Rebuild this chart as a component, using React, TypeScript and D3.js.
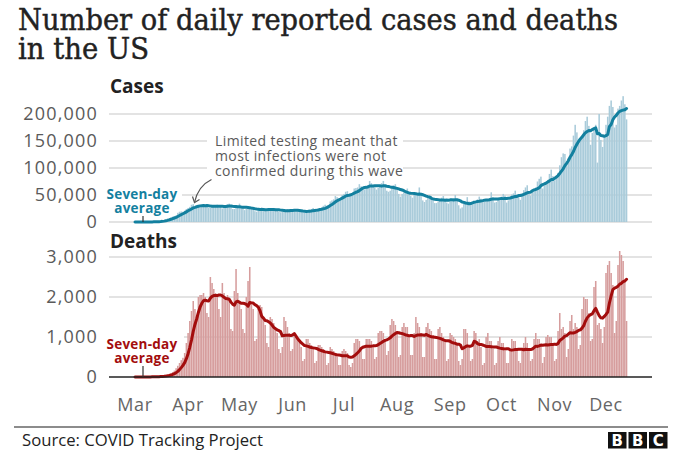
import React from "react";
import * as d3 from "d3";

// ---------- data (daily values from 1 Mar 2020, rows are Sun..Sat weeks) ----------
const startDate = new Date(Date.UTC(2020, 2, 1));
const monthLabels = ["Mar", "Apr", "May", "Jun", "Jul", "Aug", "Sep", "Oct", "Nov", "Dec"];
const caseTicks = [0, 50000, 100000, 150000, 200000];
const deathTicks = [0, 1000, 2000, 3000];

// daily reported cases, thousands
const casesThousands = [
  0.01, 0.02, 0.03, 0.05, 0.07, 0.1, 0.1,
  0.15, 0.2, 0.3, 0.4, 0.6, 0.8, 1.0,
  1.2, 1.8, 2.5, 3.6, 4.8, 6.5, 7.5,
  8.5, 10, 10.5, 12, 17, 19, 19.5,
  19, 21, 24, 26, 28, 32, 33,
  26, 29, 30, 31, 31, 33, 31,
  28, 26, 26, 30, 31, 31, 32,
  27, 28, 25, 28, 31, 33, 34,
  28, 24, 24, 26, 29, 34, 29,
  26, 22, 24, 24, 27, 28, 26,
  20, 19, 22, 21, 27, 26, 24,
  20, 22, 21, 22, 26, 25, 23,
  19, 18, 19, 20, 22, 24, 24,
  22, 19, 21, 20, 21, 22, 21,
  18, 17, 18, 21, 23, 24, 26,
  20, 19, 23, 26, 27, 30, 32,
  30, 31, 38, 40, 42, 48, 46,
  42, 42, 50, 52, 56, 57, 48,
  48, 52, 62, 63, 64, 70, 66,
  62, 60, 64, 68, 76, 72, 66,
  64, 60, 63, 68, 72, 76, 67,
  58, 56, 58, 64, 68, 70, 62,
  52, 47, 52, 55, 55, 62, 54,
  48, 45, 50, 52, 50, 64, 52,
  40, 37, 41, 44, 45, 48, 45,
  35, 35, 37, 40, 45, 48, 43,
  36, 34, 41, 40, 44, 50, 43,
  31, 25, 27, 34, 36, 46, 38,
  33, 32, 38, 38, 42, 47, 43,
  37, 37, 40, 40, 44, 55, 46,
  36, 37, 41, 44, 47, 52, 49,
  36, 40, 43, 51, 53, 58, 51,
  46, 41, 50, 59, 64, 68, 56,
  49, 59, 61, 64, 75, 80, 84,
  62, 68, 72, 78, 89, 97, 85,
  77, 85, 91, 105, 120, 127, 126,
  107, 118, 136, 140, 160, 180, 166,
  145, 150, 160, 170, 187, 195, 178,
  143, 165, 172, 180, 110, 200, 152,
  139, 158, 180, 195, 215, 225, 213,
  175, 180, 210, 215, 225, 233, 218,
  190,
];

// daily reported deaths
const deathsDaily = [
  0, 1, 1, 2, 1, 2, 2,
  3, 4, 5, 7, 8, 10, 12,
  15, 18, 25, 35, 45, 55, 70,
  90, 120, 160, 220, 280, 350, 420,
  480, 600, 850, 1100, 1400, 1650, 1900,
  1700, 1550, 2000, 2050, 2050, 2100, 2000,
  1600, 1500, 2500, 2350, 2200, 2100, 2000,
  1700, 1500, 2350, 2100, 2000, 2050, 1900,
  1200, 1150, 2150, 2700, 2100, 1900, 1700,
  1200, 1100, 2000, 2400, 2750, 1800, 1700,
  900, 950, 1700, 1800, 1750, 1500, 1300,
  850, 750, 1500, 1450, 1350, 1250, 1100,
  700, 600, 750, 1500, 1400, 1250, 1100,
  650, 700, 1000, 1050, 950, 900, 750,
  400, 450, 950, 950, 850, 800, 700,
  350, 400, 800, 800, 750, 700, 600,
  300, 350, 750, 700, 650, 600, 500,
  300, 300, 650, 700, 650, 600, 300,
  250, 350, 850, 950, 950, 900, 750,
  450, 450, 950, 950, 950, 900, 800,
  450, 500, 1100, 1150, 1150, 1100, 950,
  550, 650, 1300, 1450, 1400, 1300, 1150,
  500, 550, 1250, 1350, 1250, 1250, 1050,
  550, 550, 1100, 1500, 1350, 1250, 1100,
  500, 500, 1250, 1350, 1200, 1150, 1050,
  450, 450, 1200, 1250, 1100, 1000, 950,
  400, 450, 1100, 1050, 1000, 950, 800,
  400, 300, 450, 1200, 1200, 1100, 750,
  400, 450, 1150, 1100, 900, 950, 750,
  300, 350, 1000, 1100, 900, 900, 700,
  300, 350, 900, 1000, 850, 850, 650,
  350, 350, 700, 950, 900, 900, 650,
  400, 350, 700, 850, 1000, 850, 650,
  400, 450, 950, 1100, 950, 950, 800,
  350, 500, 1000, 1050, 1000, 1000, 800,
  400, 450, 1150, 1600, 1200, 1250, 1100,
  500, 700, 1400, 1550, 1200, 1350, 1250,
  700, 800, 1700, 2000, 1950, 1950, 1600,
  900, 950, 2250, 2400, 1300, 1350, 1200,
  850, 1250, 2600, 2800, 2900, 2600, 2300,
  1100, 1400, 2800, 3150, 3050, 2900, 2400,
  1400,
];

const annotationLines = ["Limited testing meant that", "most infections were not", "confirmed during this wave"];
const avgLabelLines = ["Seven-day", "average"];

// ---------- styling ----------
const SANS = "'Open Sans', 'DejaVu Sans', sans-serif";
const SERIF = "'DejaVu Serif', 'Liberation Serif', serif";
const CASE_BAR = "#a9cbda";
const CASE_LINE = "#13809f";
const DEATH_BAR = "#d69d9d";
const DEATH_LINE = "#a30d0d";
const GRID = "#c8c8c8";
const TICK_TEXT = "#5a5a5a";

const GRID_X0 = 109;
const GRID_X1 = 652;

function trailingMean(arr: number[]): number[] {
  return arr.map((_, i) => d3.mean(arr.slice(Math.max(0, i - 6), i + 1)) as number);
}

export default function App() {
  const cases = casesThousands.map((v) => v * 1000);
  const dates = cases.map((_, i) => d3.utcDay.offset(startDate, i));

  const x = d3
    .scaleUtc()
    .domain([startDate, new Date(Date.UTC(2020, 11, 1))])
    .range([135, 606]);
  const step = x(dates[1]) - x(dates[0]);
  const bw = step * 0.9;

  const yC = d3.scaleLinear().domain([0, 200000]).range([222, 114]);
  const yD = d3.scaleLinear().domain([0, 3000]).range([377, 257]);

  const casesAvg = trailingMean(cases);
  const deathsAvg = trailingMean(deathsDaily);

  const lineC = d3
    .line<number>()
    .x((_, i) => x(dates[i]))
    .y((d) => yC(d));
  const lineD = d3
    .line<number>()
    .x((_, i) => x(dates[i]))
    .y((d) => yD(d));

  const fmt = d3.format(",");
  const monthDates = monthLabels.map((_, i) => new Date(Date.UTC(2020, 2 + i, 1)));

  return (
    <svg
      width={680}
      height={461}
      style={{ position: "absolute", left: 0, top: 0, background: "#fff" }}
    >
      <rect x={0} y={0} width={680} height={461} fill="#fff" />
      {/* Title */}
      <g fontFamily={SERIF} fontSize={29} fill="#222" stroke="#222" strokeWidth={0.45}>
        <text x={18} y={30} textLength={600} lengthAdjust="spacingAndGlyphs">
          Number of daily reported cases and deaths
        </text>
        <text x={18} y={59} textLength={131} lengthAdjust="spacingAndGlyphs">
          in the US
        </text>
      </g>

      {/* ---------- Cases panel ---------- */}
      <text x={110} y={93} fontFamily={SANS} fontWeight={700} fontSize={19} fill="#222">
        Cases
      </text>
      {caseTicks.map((t) => (
        <g key={"cg" + t}>
          <line x1={GRID_X0} x2={GRID_X1} y1={yC(t)} y2={yC(t)} stroke={GRID} strokeWidth={1.2} />
          <text
            x={98}
            y={yC(t)}
            dy="0.36em"
            textAnchor="end"
            fontFamily={SANS}
            fontSize={18}
            letterSpacing={1.2}
            fill={TICK_TEXT}
          >
            {fmt(t)}
          </text>
        </g>
      ))}
      {/* annotation background */}
      <rect x={207} y={131} width={196} height={50} fill="#fff" />
      <rect x={104} y={184} width={78} height={30} fill="#fff" />
      {cases.map((v, i) => (
        <rect
          key={"cb" + i}
          x={x(dates[i]) - bw / 2}
          y={yC(v)}
          width={bw}
          height={yC(0) - yC(v)}
          fill={CASE_BAR}
        />
      ))}
      <path d={lineC(casesAvg) || ""} fill="none" stroke={CASE_LINE} strokeWidth={3} strokeLinejoin="round" strokeLinecap="round" />
      {/* annotation */}
      <text x={215} y={145.5} fontFamily={SANS} fontSize={14} letterSpacing={0.4} fill="#5a5a5a">
        {annotationLines.map((l, i) => (
          <tspan key={"an" + i} x={215} dy={i === 0 ? 0 : 15}>
            {l}
          </tspan>
        ))}
      </text>
      <path d="M211.5,179.5 Q198,186 194.5,202.5" fill="none" stroke="#555" strokeWidth={1.2} />
      <path d="M192.5,196.5 L194.5,202.5 L199.5,199.5" fill="none" stroke="#555" strokeWidth={1.2} />
      <text x={142} y={198.5} fontFamily={SANS} fontSize={13.5} letterSpacing={0.25} fontWeight={700} fill={CASE_LINE} textAnchor="middle">
        {avgLabelLines.map((l, i) => (
          <tspan key={"ca" + i} x={142} dy={i === 0 ? 0 : 14}>
            {l}
          </tspan>
        ))}
      </text>
      <line x1={143} x2={143} y1={216} y2={222} stroke="#333" strokeWidth={1.2} />

      {/* ---------- Deaths panel ---------- */}
      <text x={110} y={248} fontFamily={SANS} fontWeight={700} fontSize={19} fill="#222">
        Deaths
      </text>
      {deathTicks.map((t) => (
        <g key={"dg" + t}>
          {t !== 0 && (
            <line x1={GRID_X0} x2={GRID_X1} y1={yD(t)} y2={yD(t)} stroke={GRID} strokeWidth={1.2} />
          )}
          <text
            x={98}
            y={yD(t)}
            dy="0.36em"
            textAnchor="end"
            fontFamily={SANS}
            fontSize={18}
            letterSpacing={1.2}
            fill={TICK_TEXT}
          >
            {fmt(t)}
          </text>
        </g>
      ))}
      <rect x={104} y={335} width={80} height={31} fill="#fff" />
      {deathsDaily.map((v, i) => (
        <rect
          key={"db" + i}
          x={x(dates[i]) - bw / 2}
          y={yD(v)}
          width={bw}
          height={yD(0) - yD(v)}
          fill={DEATH_BAR}
        />
      ))}
      <path d={lineD(deathsAvg) || ""} fill="none" stroke={DEATH_LINE} strokeWidth={3} strokeLinejoin="round" strokeLinecap="round" />
      <line x1={GRID_X0} x2={GRID_X1} y1={yD(0)} y2={yD(0)} stroke="#222" strokeWidth={1.6} />
      <text x={142} y={348.5} fontFamily={SANS} fontSize={13.5} letterSpacing={0.25} fontWeight={700} fill={DEATH_LINE} textAnchor="middle">
        {avgLabelLines.map((l, i) => (
          <tspan key={"da" + i} x={142} dy={i === 0 ? 0 : 14}>
            {l}
          </tspan>
        ))}
      </text>
      <line x1={143} x2={143} y1={366} y2={377} stroke="#333" strokeWidth={1.2} />

      {/* ---------- x axis ---------- */}
      {monthDates.map((d, i) => (
        <text
          key={"m" + i}
          x={x(d)}
          y={411}
          textAnchor="middle"
          fontFamily={SANS}
          fontSize={18}
          letterSpacing={0.6}
          fill="#666"
        >
          {monthLabels[i]}
        </text>
      ))}

      {/* ---------- footer ---------- */}
      <line x1={14} x2={668} y1={427} y2={427} stroke="#666" strokeWidth={1.5} />
      <text x={22} y={446} fontFamily={SANS} fontSize={16} fill="#222" textLength={241} lengthAdjust="spacingAndGlyphs">
        Source: COVID Tracking Project
      </text>
      {["B", "B", "C"].map((l, i) => (
        <g key={"bbc" + i}>
          <rect x={608 + i * 20.5} y={432} width={18.5} height={16.5} fill="#111" />
          <text
            x={608 + i * 20.5 + 9.25}
            y={445.5}
            textAnchor="middle"
            fontFamily="'DejaVu Sans', sans-serif"
            fontWeight={700}
            fontSize={15}
            fill="#fff"
          >
            {l}
          </text>
        </g>
      ))}
    </svg>
  );
}
